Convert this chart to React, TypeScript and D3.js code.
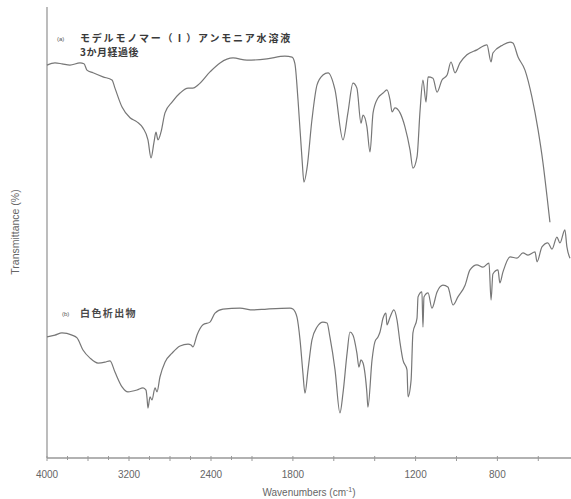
import React, { useRef, useEffect } from "react";
import * as d3 from "d3";

// IR spectra: [wavenumber (cm-1), transmittance (arbitrary %, offset)]
const spectrumA: [number, number][] = [
  [4000, 87.3], [3922, 87.8], [3854, 87.6], [3776, 87.3], [3678, 87.8], [3639, 87.6],
  [3610, 86.2], [3551, 85.6], [3454, 84.7], [3366, 84.0], [3337, 82.2], [3268, 78.0],
  [3190, 75.6], [3122, 74.7], [3063, 73.3], [3015, 70.7], [2985, 66.7], [2956, 70.2],
  [2937, 72.4], [2917, 70.7], [2888, 72.4], [2849, 76.7], [2780, 79.1], [2702, 81.1],
  [2624, 82.2], [2576, 82.2], [2527, 82.9], [2410, 85.8], [2312, 87.8], [2185, 88.9],
  [2049, 88.4], [1927, 88.7], [1839, 89.3], [1804, 89.1], [1790, 87.6], [1775, 79.6],
  [1755, 66.2], [1746, 61.3], [1731, 64.4], [1707, 75.1], [1682, 82.9], [1653, 85.1],
  [1628, 85.6], [1594, 81.8], [1555, 70.7], [1531, 76.7], [1506, 83.3], [1487, 82.2],
  [1467, 74.4], [1457, 76.2], [1438, 73.6], [1423, 68.0], [1408, 76.7], [1384, 80.0],
  [1359, 81.1], [1340, 81.8], [1325, 79.6], [1315, 76.9], [1301, 77.8], [1276, 76.7],
  [1252, 73.6], [1227, 68.4], [1213, 64.4], [1193, 66.9], [1178, 77.3], [1164, 84.0],
  [1149, 79.1], [1139, 84.7], [1115, 84.4], [1095, 81.3], [1071, 84.0], [1046, 85.1],
  [1027, 88.0], [1007, 85.6], [983, 87.8], [949, 89.6], [900, 90.7], [851, 91.8],
  [831, 88.0], [822, 90.0], [773, 91.8], [738, 92.4], [724, 92.2], [699, 89.1],
  [665, 86.2], [631, 80.2], [601, 72.9], [577, 65.6], [557, 58.0], [543, 52.4],
];

const spectrumB: [number, number][] = [
  [4000, 26.9], [3922, 27.3], [3854, 27.8], [3756, 27.3], [3707, 26.7], [3649, 24.0],
  [3580, 22.2], [3502, 21.1], [3434, 21.3], [3385, 21.6], [3337, 19.1], [3268, 15.8],
  [3210, 14.7], [3122, 15.1], [3063, 15.6], [3034, 15.1], [3024, 13.3], [3015, 11.1],
  [2995, 13.6], [2976, 12.9], [2946, 15.6], [2927, 14.7], [2898, 18.0], [2849, 21.3],
  [2780, 23.3], [2702, 24.9], [2624, 25.3], [2595, 25.1], [2576, 24.7], [2537, 27.3],
  [2478, 29.6], [2410, 30.2], [2361, 32.2], [2283, 33.1], [2117, 33.3], [1995, 32.9],
  [1927, 33.1], [1814, 33.3], [1800, 33.1], [1780, 31.3], [1765, 26.2], [1751, 18.9],
  [1741, 14.4], [1726, 19.6], [1707, 26.2], [1682, 29.1], [1653, 30.2], [1633, 30.0],
  [1619, 26.9], [1594, 19.6], [1570, 10.0], [1555, 14.4], [1535, 23.3], [1521, 28.0],
  [1506, 27.3], [1487, 23.3], [1477, 20.2], [1467, 21.8], [1457, 21.1], [1438, 14.4],
  [1433, 11.3], [1413, 21.8], [1399, 25.8], [1384, 26.9], [1374, 28.0], [1359, 31.1],
  [1345, 32.2], [1340, 29.6], [1325, 31.3], [1306, 32.9], [1291, 30.7], [1276, 25.6],
  [1262, 21.8], [1242, 19.6], [1237, 13.6], [1222, 17.3], [1213, 27.8], [1193, 31.1],
  [1188, 35.8], [1169, 36.9], [1164, 29.1], [1159, 35.8], [1139, 36.7], [1120, 33.3],
  [1095, 36.9], [1066, 38.4], [1042, 38.0], [1017, 34.0], [993, 35.8], [958, 38.4],
  [934, 41.8], [900, 42.9], [871, 42.4], [841, 43.3], [831, 35.1], [822, 40.9],
  [797, 41.8], [788, 38.9], [773, 41.3], [738, 44.7], [704, 44.4], [675, 45.6],
  [650, 45.1], [616, 45.8], [606, 43.6], [582, 46.9], [553, 47.8], [533, 46.4],
  [509, 49.1], [494, 47.8], [470, 50.7], [460, 46.9], [445, 44.4],
];

const xTickLabels = [4000, 3200, 2400, 1800, 1200, 800];
const xTicks = [
  4000, 3800, 3600, 3400, 3200, 3000, 2800, 2600, 2400, 2200, 2000,
  1800, 1600, 1400, 1200, 1000, 800, 600,
];
const labelA1 = "モデルモノマー（Ⅰ）アンモニア水溶液";
const labelA2 = "3か月経過後";
const labelB = "白色析出物";

const App = () => {
  const ref = useRef<SVGSVGElement>(null);

  useEffect(() => {
    const svg = d3.select(ref.current);
    svg.selectAll("*").remove();

    const W = 571;
    const H = 499;
    svg.attr("width", W).attr("height", H);

    // split axis: 4000-2000 compressed, below 2000 doubled
    const x = d3.scaleLinear().domain([4000, 2000, 440]).range([47, 252, 571]);
    const y = d3.scaleLinear().domain([0, 100]).range([458, 8]);

    const axisCol = "#999";
    const textCol = "#666";
    const latin = "'Liberation Sans', Arial, sans-serif";
    const jp = "'Noto Sans CJK JP', sans-serif";

    // frame
    svg.append("line")
      .attr("x1", 47).attr("x2", 47).attr("y1", 7).attr("y2", 458)
      .attr("stroke", axisCol).attr("stroke-width", 1.3);
    svg.append("line")
      .attr("x1", 47).attr("x2", W).attr("y1", 458).attr("y2", 458)
      .attr("stroke", axisCol).attr("stroke-width", 1.3);

    svg.append("g")
      .selectAll("line")
      .data(xTicks)
      .enter()
      .append("line")
      .attr("x1", (d) => x(d))
      .attr("x2", (d) => x(d))
      .attr("y1", 456)
      .attr("y2", (d) => (d > 2000 && d % 400 !== 0 ? 460 : 461))
      .attr("stroke", axisCol)
      .attr("stroke-width", 1);

    svg.append("g")
      .selectAll("text")
      .data(xTickLabels)
      .enter()
      .append("text")
      .attr("x", (d) => x(d))
      .attr("y", 478)
      .attr("text-anchor", "middle")
      .attr("font-family", latin)
      .attr("font-size", 10)
      .attr("fill", textCol)
      .text((d) => d);

    const xl = svg.append("text")
      .attr("x", 309)
      .attr("y", 496)
      .attr("text-anchor", "middle")
      .attr("font-family", latin)
      .attr("font-size", 10)
      .attr("fill", textCol);
    xl.append("tspan").text("Wavenumbers (cm");
    xl.append("tspan").attr("dy", -4).attr("font-size", 7).text("-1");
    xl.append("tspan").attr("dy", 4).text(")");

    svg.append("text")
      .attr("transform", "translate(19,232) rotate(-90)")
      .attr("text-anchor", "middle")
      .attr("font-family", latin)
      .attr("font-size", 10.5)
      .attr("fill", textCol)
      .text("Transmittance (%)");

    const line = d3
      .line<[number, number]>()
      .x((d) => x(d[0]))
      .y((d) => y(d[1]))
      .curve(d3.curveMonotoneX);

    [spectrumA, spectrumB].forEach((s) => {
      svg.append("path")
        .datum(s.slice().reverse())
        .attr("d", line)
        .attr("fill", "none")
        .attr("stroke", "#777")
        .attr("stroke-width", 1.2)
        .attr("stroke-linejoin", "round");
    });

    // annotations
    svg.append("text")
      .attr("x", 57).attr("y", 41)
      .attr("font-family", latin).attr("font-size", 6).attr("fill", "#555")
      .text("(a)");
    svg.append("text")
      .attr("x", 80).attr("y", 42)
      .attr("font-family", jp).attr("font-size", 10).attr("font-weight", 700)
      .attr("letter-spacing", 1.8).attr("fill", "#3a3a3a")
      .text(labelA1);
    svg.append("text")
      .attr("x", 80).attr("y", 56)
      .attr("font-family", jp).attr("font-size", 10).attr("font-weight", 700)
      .attr("letter-spacing", 0.5).attr("fill", "#3a3a3a")
      .text(labelA2);
    svg.append("text")
      .attr("x", 62).attr("y", 316)
      .attr("font-family", latin).attr("font-size", 6).attr("fill", "#555")
      .text("(b)");
    svg.append("text")
      .attr("x", 80).attr("y", 317)
      .attr("font-family", jp).attr("font-size", 10).attr("font-weight", 700)
      .attr("letter-spacing", 1.4).attr("fill", "#4a4a4a")
      .text(labelB);

    return () => {
      svg.selectAll("*").remove();
    };
  }, []);

  return (
    <svg
      ref={ref}
      style={{ display: "block", position: "absolute", left: 0, top: 0, background: "#fff" }}
    />
  );
};

export default App;
